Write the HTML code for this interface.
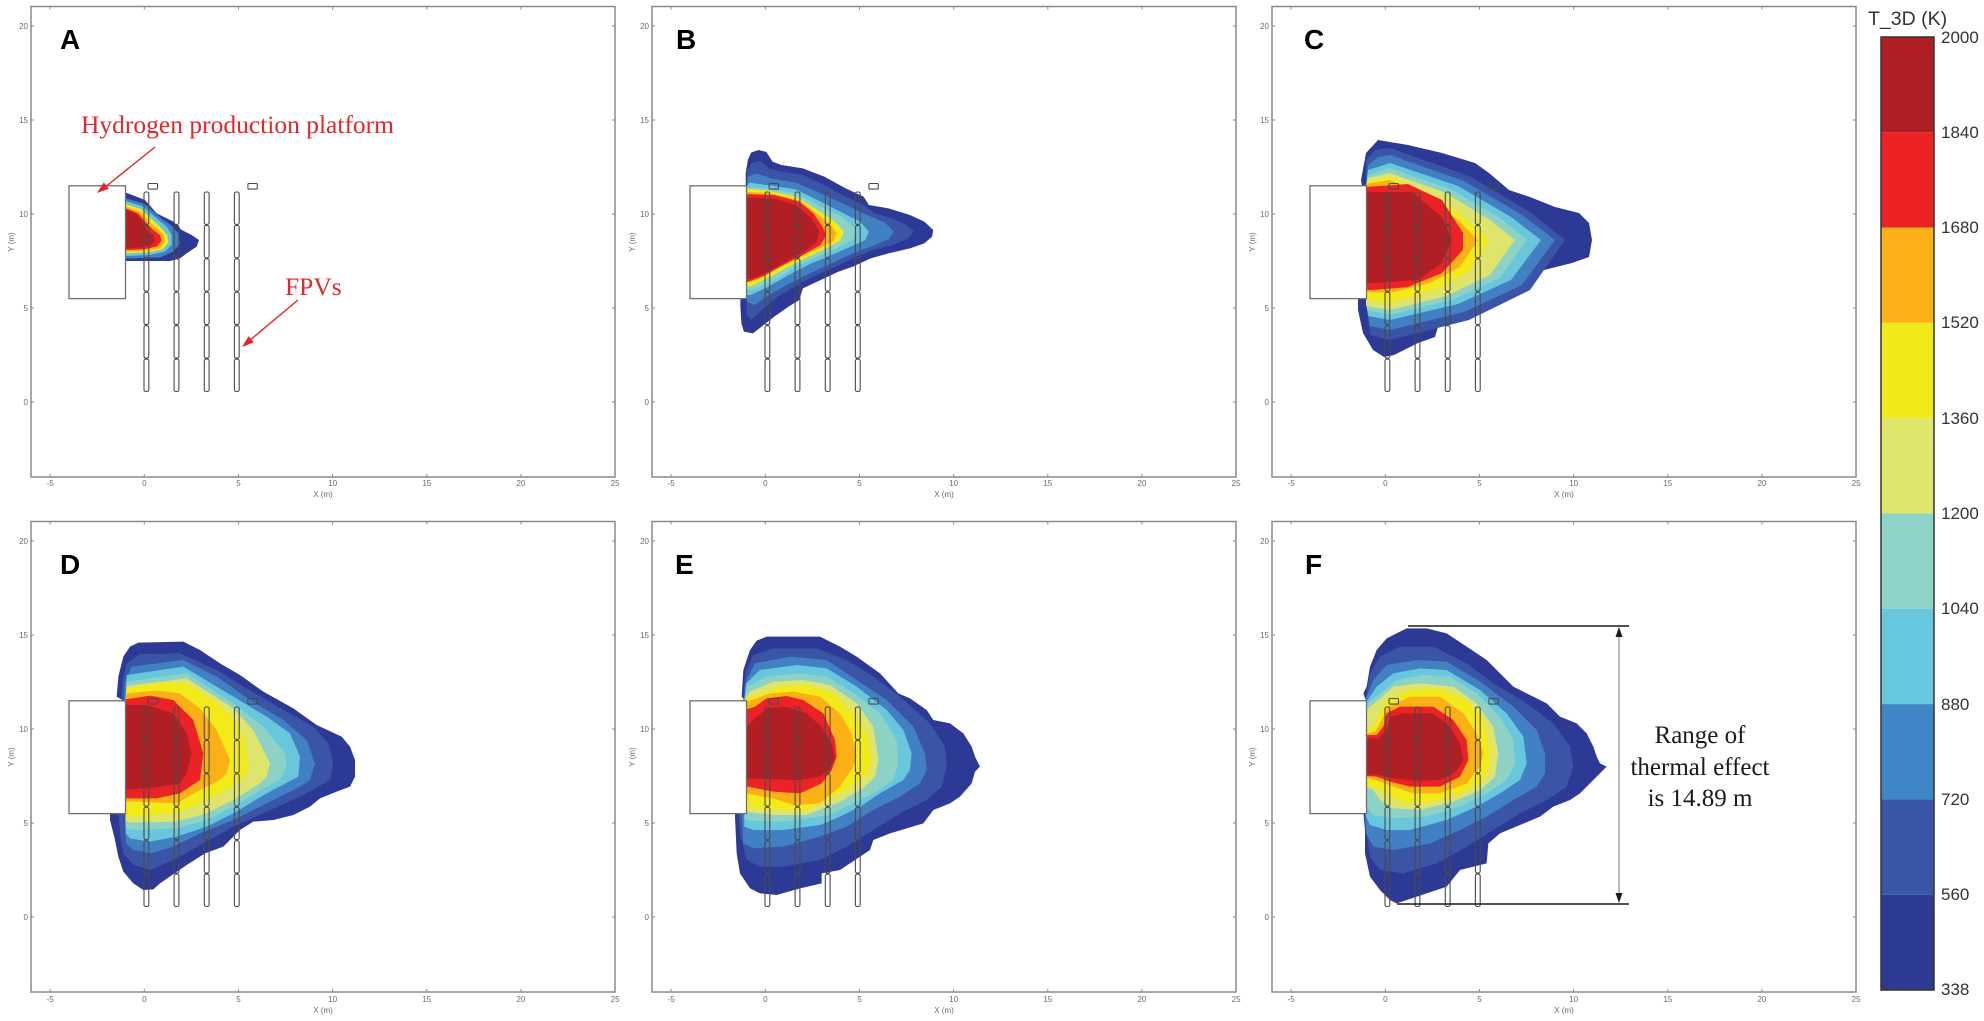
<!DOCTYPE html>
<html>
<head>
<meta charset="utf-8">
<style>
html,body{margin:0;padding:0;background:#fff;}
svg{display:block;}
.tk{font-family:"Liberation Sans",sans-serif;font-size:8px;fill:#6a6a6a;}
.lt{font-family:"Liberation Sans",sans-serif;font-size:28px;font-weight:bold;fill:#000;}
.cb{font-family:"Liberation Sans",sans-serif;font-size:17px;fill:#333;}
.ann{font-family:"Liberation Serif",serif;font-size:25.5px;fill:#e3262b;}
.rng{font-family:"Liberation Serif",serif;font-size:25px;fill:#1a1a1a;}
</style>
</head>
<body>
<svg width="1984" height="1021" viewBox="0 0 1984 1021" xmlns="http://www.w3.org/2000/svg">
<rect width="1984" height="1021" fill="#fff"/>
<defs>
<g id="geom">
  <rect x="-75.3" y="-216.2" width="56.5" height="112.8" fill="#fff" stroke="#6e6e6e" stroke-width="1.3"/>
  <g fill="none" stroke="#4a4a4a" stroke-width="1.1">
    <rect x="-0.3" y="-42.9" width="4.8" height="32.4" rx="1.8"/>
    <rect x="-0.3" y="-76.3" width="4.8" height="32.4" rx="1.8"/>
    <rect x="-0.3" y="-109.8" width="4.8" height="32.4" rx="1.8"/>
    <rect x="-0.3" y="-143.2" width="4.8" height="32.4" rx="1.8"/>
    <rect x="-0.3" y="-176.6" width="4.8" height="32.4" rx="1.8"/>
    <rect x="-0.3" y="-210.0" width="4.8" height="32.4" rx="1.8"/>
    <rect x="29.8" y="-42.9" width="4.8" height="32.4" rx="1.8"/>
    <rect x="29.8" y="-76.3" width="4.8" height="32.4" rx="1.8"/>
    <rect x="29.8" y="-109.8" width="4.8" height="32.4" rx="1.8"/>
    <rect x="29.8" y="-143.2" width="4.8" height="32.4" rx="1.8"/>
    <rect x="29.8" y="-176.6" width="4.8" height="32.4" rx="1.8"/>
    <rect x="29.8" y="-210.0" width="4.8" height="32.4" rx="1.8"/>
    <rect x="60.0" y="-42.9" width="4.8" height="32.4" rx="1.8"/>
    <rect x="60.0" y="-76.3" width="4.8" height="32.4" rx="1.8"/>
    <rect x="60.0" y="-109.8" width="4.8" height="32.4" rx="1.8"/>
    <rect x="60.0" y="-143.2" width="4.8" height="32.4" rx="1.8"/>
    <rect x="60.0" y="-176.6" width="4.8" height="32.4" rx="1.8"/>
    <rect x="60.0" y="-210.0" width="4.8" height="32.4" rx="1.8"/>
    <rect x="90.1" y="-42.9" width="4.8" height="32.4" rx="1.8"/>
    <rect x="90.1" y="-76.3" width="4.8" height="32.4" rx="1.8"/>
    <rect x="90.1" y="-109.8" width="4.8" height="32.4" rx="1.8"/>
    <rect x="90.1" y="-143.2" width="4.8" height="32.4" rx="1.8"/>
    <rect x="90.1" y="-176.6" width="4.8" height="32.4" rx="1.8"/>
    <rect x="90.1" y="-210.0" width="4.8" height="32.4" rx="1.8"/>
    <rect x="3.8" y="-218.5" width="9.4" height="5.6" rx="1"/>
    <rect x="103.6" y="-218.5" width="9.4" height="5.6" rx="1"/>
  </g>
</g>
<g id="frame">
  <rect x="31" y="6.5" width="584" height="470.5" fill="none" stroke="#8a8a8a" stroke-width="1.5"/>
  <path d="M50.1 477v-3M144.3 477v-3M238.5 477v-3M332.6 477v-3M426.8 477v-3M520.9 477v-3
           M50.1 6.5v3M144.3 6.5v3M238.5 6.5v3M332.6 6.5v3M426.8 6.5v3M520.9 6.5v3
           M31 402h3M31 308h3M31 214h3M31 120h3M31 26h3
           M615 402h-3M615 308h-3M615 214h-3M615 120h-3M615 26h-3" stroke="#8a8a8a" stroke-width="1"/>
</g>
</defs>

<!-- ========== PANEL A ========== -->
<g transform="scale(0.333333)">
  <polygon fill="#2C3A95" points="378,578 435,600 470,640 520,665 545,690 575,705 597,720 590,740 560,760 540,775 510,783 378,783"/>
  <polygon fill="#4080C3" points="378,595 435,612 475,648 512,675 535,700 540,730 520,755 480,772 378,776"/>
  <polygon fill="#68C7DC" points="378,603 430,620 470,655 500,680 515,705 515,735 495,755 450,765 378,768"/>
  <polygon fill="#F3EA1A" points="378,612 425,628 460,662 485,685 502,705 505,728 488,748 445,757 378,760"/>
  <polygon fill="#FBB016" points="378,620 420,635 450,668 475,688 492,705 495,725 480,745 440,752 378,755"/>
  <polygon fill="#EC2326" points="378,625 415,640 440,670 460,690 480,705 485,722 470,740 430,748 378,750"/>
  <polygon fill="#B11E24" points="378,632 405,640 425,660 440,690 460,705 465,720 455,735 420,742 378,745"/>
</g>
<use href="#geom" x="144.3" y="402"/>
<use href="#frame" x="0" y="0"/>
<text class="lt" x="60" y="49">A</text>
<text class="ann" x="81" y="133">Hydrogen production platform</text>
<line x1="155" y1="147" x2="104" y2="188" stroke="#e3262b" stroke-width="1.4"/>
<polygon fill="#e3262b" points="97,193 108.9,188.7 103.9,182.4"/>
<text class="ann" x="285" y="295">FPVs</text>
<line x1="298" y1="300" x2="249" y2="341" stroke="#e3262b" stroke-width="1.4"/>
<polygon fill="#e3262b" points="242,347 253.8,342.4 248.6,336.2"/>

<!-- ========== PANEL B ========== -->
<g transform="translate(460,0) scale(0.35714,0.333333)">
  <polygon fill="#2C3A95" points="800,560 800,520 806,480 815,458 835,450 858,456 875,485 900,495 960,505 1020,530 1080,565 1130,590 1145,615 1200,625 1260,645 1300,665 1325,690 1322,710 1300,730 1260,745 1200,760 1150,775 1100,800 1060,815 1010,840 960,865 950,900 920,920 880,950 850,975 820,1000 795,995 788,970 785,920 785,893 700,893 700,560"/>
  <polygon fill="#3A55A6" points="803,560 804,515 815,490 840,482 865,505 900,515 960,525 1020,555 1080,590 1130,615 1160,640 1210,655 1250,675 1270,695 1255,715 1210,735 1150,752 1100,775 1050,800 990,830 940,858 890,890 850,925 815,960 803,945 803,890 700,890 700,560"/>
  <polygon fill="#4080C3" points="803,560 806,530 830,520 870,535 940,548 1010,580 1080,615 1140,645 1190,668 1215,695 1200,718 1150,740 1100,760 1040,790 980,820 920,852 865,885 825,915 803,905 803,890 700,890 700,560"/>
  <polygon fill="#68C7DC" points="803,560 810,548 860,555 940,568 1010,605 1070,638 1120,665 1145,695 1135,720 1090,742 1040,765 980,792 920,825 860,862 815,885 700,885 700,560"/>
  <polygon fill="#8ED2C6" points="803,562 860,565 940,580 1010,620 1070,650 1110,690 1100,720 1060,742 1000,770 940,800 880,840 825,868 795,870 700,870 700,562"/>
  <polygon fill="#F3EA1A" points="803,566 860,572 940,590 1000,630 1050,665 1075,695 1065,722 1030,742 980,768 920,800 860,835 815,858 795,862 700,862 700,566"/>
  <polygon fill="#FBB016" points="795,575 870,580 950,600 1000,640 1040,675 1055,700 1045,725 1005,745 950,772 890,805 835,838 795,850 700,850 700,575"/>
  <polygon fill="#EC2326" points="795,582 880,585 950,605 990,640 1015,680 1025,705 1010,735 960,765 900,798 850,828 800,848 700,848 700,582"/>
  <polygon fill="#B11E24" points="795,592 880,596 940,615 980,650 1005,690 1000,725 970,750 920,780 870,810 820,835 795,838 700,838 700,592"/>
</g>
<use href="#geom" x="765.3" y="402"/>
<use href="#frame" x="621" y="0"/>
<text class="lt" x="676" y="49">B</text>

<!-- ========== PANEL C ========== -->
<g>
  <polygon fill="#2C3A95" points="1362,187 1361,180 1366,153 1378,140 1390,142 1408,145 1442,153 1475,163 1489,173 1509,190 1530,197 1555,207 1579,213 1589,223 1592,240 1589,257 1572,263 1544,270 1509,277 1489,287 1475,293 1450,307 1440,320 1435,337 1418,343 1394,355 1384,357 1373,350 1363,333 1358,310 1358,297 1340,297 1340,187"/>
  <polygon fill="#3A55A6" points="1366,187 1366,160 1375,150 1390,148 1469,176 1530,212 1565,240 1530,290 1469,320 1390,340 1370,335 1366,300 1366,297 1340,297 1340,187"/>
  <polygon fill="#4080C3" points="1366,187 1368,165 1378,157 1390,155 1464,181 1522,215 1555,240 1522,285 1464,312 1390,330 1370,326 1366,300 1366,297 1340,297 1340,187"/>
  <polygon fill="#68C7DC" points="1366,187 1368,170 1390,163 1458,186 1511,217 1541,240 1511,280 1458,304 1390,320 1368,316 1366,300 1366,297 1340,297 1340,187"/>
  <polygon fill="#8ED2C6" points="1366,187 1368,175 1390,168 1452,190 1500,218 1527,240 1500,278 1452,300 1390,315 1367,310 1366,297 1340,297 1340,187"/>
  <polygon fill="#DEE46C" points="1366,187 1368,178 1390,173 1446,193 1490,220 1515,240 1490,275 1446,296 1390,310 1366,306 1366,297 1340,297 1340,187"/>
  <polygon fill="#F3EA1A" points="1366,187 1367,182 1390,177 1435,196 1469,221 1489,240 1469,272 1435,290 1390,303 1366,300 1366,297 1340,297 1340,187"/>
  <polygon fill="#FBB016" points="1366,187 1366,184 1390,180 1430,198 1460,222 1478,240 1460,267 1430,283 1390,293 1366,292 1340,292 1340,187"/>
  <polygon fill="#EC2326" points="1366,187 1408,184 1442,200 1463,233 1463,250 1442,273 1408,287 1373,290 1366,290 1340,290 1340,187"/>
  <polygon fill="#B11E24" points="1366,192 1412,192 1442,217 1452,240 1442,263 1418,280 1373,283 1366,283 1340,283 1340,192"/>
</g>
<use href="#geom" x="1385.3" y="402"/>
<use href="#frame" x="1241" y="0"/>
<text class="lt" x="1304" y="49">C</text>

<!-- ========== PANEL D ========== -->
<g transform="translate(0,500) scale(0.333333)">
  <polygon fill="#2C3A95" points="377,606 350,590 355,530 370,470 390,440 415,428 550,425 600,450 660,490 720,525 790,575 880,625 950,675 1025,710 1050,740 1065,780 1065,830 1050,860 1010,875 960,895 930,920 880,945 820,960 760,965 720,990 670,1040 615,1060 560,1095 480,1150 460,1168 430,1170 400,1150 370,1115 355,1070 345,1020 330,960 330,936 300,936 300,606"/>
  <polygon fill="#3A55A6" points="377,606 365,600 368,540 380,490 420,462 540,460 650,510 740,565 850,630 940,680 985,730 1000,790 990,840 900,890 800,935 700,980 610,1030 520,1080 450,1110 400,1095 370,1060 360,1000 355,938 300,936 300,606"/>
  <polygon fill="#4080C3" points="377,606 372,600 375,545 395,500 550,480 650,530 750,600 850,660 920,720 945,790 930,840 900,860 800,910 700,960 600,1000 520,1040 450,1060 400,1050 378,1030 375,938 300,936 300,606"/>
  <polygon fill="#68C7DC" points="377,606 377,600 380,525 550,500 700,590 800,650 870,700 900,770 895,830 800,880 700,940 620,980 530,1010 450,1025 390,1015 377,1000 377,936 300,936 300,606"/>
  <polygon fill="#8ED2C6" points="377,606 377,600 380,545 560,520 700,610 790,680 855,760 860,800 840,840 800,860 700,920 620,960 530,985 400,990 377,985 377,936 300,936 300,606"/>
  <polygon fill="#DEE46C" points="377,606 377,600 380,558 560,535 700,625 760,690 810,790 800,830 780,850 700,900 620,940 530,965 400,968 377,965 377,936 300,936 300,606"/>
  <polygon fill="#F3EA1A" points="377,606 377,600 380,565 480,548 560,550 640,600 700,650 735,720 745,800 735,830 700,860 620,900 530,940 400,950 377,950 377,936 300,936 300,606"/>
  <polygon fill="#FBB016" points="377,606 377,600 380,580 470,572 540,580 600,625 650,690 690,780 680,820 660,840 600,870 530,910 400,905 377,905 300,905 300,606"/>
  <polygon fill="#EC2326" points="377,606 377,598 450,587 520,600 580,660 610,760 605,800 600,840 540,880 470,895 377,895 300,895 300,606"/>
  <polygon fill="#B11E24" points="377,615 440,615 520,640 560,700 575,760 560,820 540,850 470,862 377,870 300,870 300,615"/>
</g>
<use href="#geom" x="144.3" y="917"/>
<use href="#frame" x="0" y="515"/>
<text class="lt" x="60" y="574">D</text>

<!-- ========== PANEL E ========== -->
<g transform="translate(640,500) scale(0.333333)">
  <polygon fill="#2C3A95" points="319,606 305,590 310,510 330,450 350,422 380,410 540,410 600,440 650,470 720,520 775,580 810,595 860,630 880,660 930,670 970,700 995,740 1005,770 1020,800 1005,815 995,850 960,890 930,910 880,930 850,970 800,985 750,1000 700,1020 690,1050 600,1110 545,1120 545,1150 480,1165 410,1185 360,1180 330,1165 300,1120 290,1060 285,950 285,936 250,936 250,606"/>
  <polygon fill="#3A55A6" points="319,606 310,600 315,520 340,465 400,445 530,445 620,480 700,530 780,590 870,670 915,740 920,800 905,860 860,900 780,940 700,990 620,1040 540,1080 430,1100 360,1100 320,1080 300,1000 295,936 250,936 250,606"/>
  <polygon fill="#4080C3" points="319,606 315,600 320,540 345,490 450,470 560,480 650,540 740,600 820,680 855,760 860,810 840,850 780,890 700,930 620,980 540,1010 430,1040 340,1045 310,1030 305,936 250,936 250,606"/>
  <polygon fill="#68C7DC" points="319,606 313,600 318,550 360,510 470,495 560,505 650,560 740,630 790,690 815,760 810,810 790,840 720,880 660,920 600,950 540,975 430,990 340,990 313,980 313,936 250,936 250,606"/>
  <polygon fill="#8ED2C6" points="319,606 313,600 320,560 380,530 480,520 560,530 650,585 720,640 770,720 775,790 760,840 700,880 640,910 570,945 430,965 330,962 313,958 313,936 250,936 250,606"/>
  <polygon fill="#DEE46C" points="319,606 313,600 330,575 400,545 490,540 570,555 650,610 700,680 715,780 705,830 670,865 600,905 500,945 400,945 313,935 250,935 250,606"/>
  <polygon fill="#F3EA1A" points="319,606 313,598 350,585 420,560 500,555 580,580 640,640 680,700 695,770 685,820 650,850 580,890 500,930 400,928 313,922 250,922 250,606"/>
  <polygon fill="#FBB016" points="319,606 390,580 460,575 540,590 600,640 635,700 650,770 640,800 600,860 540,910 460,915 400,895 313,880 250,880 250,606"/>
  <polygon fill="#EC2326" points="313,630 345,620 380,595 440,588 490,600 550,640 585,720 590,770 575,810 545,850 480,880 400,875 313,858 250,858 250,630"/>
  <polygon fill="#B11E24" points="313,685 340,660 380,625 440,620 500,640 545,680 575,730 585,775 570,805 540,830 480,840 400,838 313,835 250,835 250,685"/>
</g>
<use href="#geom" x="765.3" y="917"/>
<use href="#frame" x="621" y="515"/>
<text class="lt" x="675" y="574">E</text>

<!-- ========== PANEL F ========== -->
<g transform="translate(1260,500) scale(0.333333)">
  <polygon fill="#2C3A95" points="319,606 310,580 320,560 330,500 350,450 380,415 440,385 500,385 560,400 620,440 680,480 720,520 760,560 800,580 860,610 900,650 950,670 980,700 1000,740 1010,770 1020,790 1040,800 1025,815 1000,840 960,880 930,900 880,920 840,950 780,975 720,1000 685,1030 680,1090 600,1110 560,1160 500,1180 440,1200 410,1210 390,1200 360,1170 330,1130 315,1060 315,990 310,936 250,936 250,606"/>
  <polygon fill="#3A55A6" points="319,606 316,600 330,520 360,470 420,440 520,440 620,490 700,550 800,610 880,670 930,740 940,800 920,860 860,900 780,940 700,990 620,1040 530,1090 430,1120 360,1110 330,1070 320,1000 315,936 250,936 250,606"/>
  <polygon fill="#4080C3" points="319,606 316,600 340,540 380,495 470,480 560,485 660,545 760,620 830,690 855,760 855,820 830,860 760,900 680,950 600,990 510,1030 400,1050 340,1040 318,1000 315,936 250,936 250,606"/>
  <polygon fill="#68C7DC" points="319,606 350,560 400,520 480,505 560,510 660,570 740,640 790,710 800,790 780,840 720,880 650,920 560,960 450,990 380,990 330,975 318,950 318,936 250,936 250,606"/>
  <polygon fill="#8ED2C6" points="316,615 360,580 410,540 490,525 570,530 650,580 720,650 760,720 765,790 740,840 680,880 600,920 500,950 400,955 340,945 318,920 250,920 250,615"/>
  <polygon fill="#DEE46C" points="318,630 355,600 400,560 480,550 580,560 650,610 700,680 715,760 705,830 660,870 580,905 480,930 400,925 360,900 340,870 318,860 250,860 250,630"/>
  <polygon fill="#F3EA1A" points="318,690 340,680 360,640 380,600 450,570 540,565 620,600 670,660 690,740 690,800 660,850 600,880 520,905 440,910 390,890 360,870 330,860 318,855 250,855 250,690"/>
  <polygon fill="#FBB016" points="318,700 345,695 365,660 385,620 450,590 540,590 610,640 650,700 670,760 660,800 620,850 540,880 460,880 400,860 360,845 330,835 318,833 250,833 250,700"/>
  <polygon fill="#EC2326" points="318,705 350,705 370,680 380,640 420,620 520,620 580,660 620,720 625,780 600,830 540,860 450,860 390,845 350,830 318,828 250,828 250,705"/>
  <polygon fill="#B11E24" points="318,715 355,715 380,690 390,650 430,640 520,640 570,680 600,730 610,780 590,815 540,840 460,842 400,835 360,825 318,822 250,822 250,715"/>
</g>
<use href="#geom" x="1385.3" y="917"/>
<use href="#frame" x="1241" y="515"/>
<text class="lt" x="1305" y="574">F</text>
<!-- range annotation -->
<line x1="1408" y1="626" x2="1629" y2="626" stroke="#1a1a1a" stroke-width="1.6"/>
<line x1="1397" y1="904" x2="1629" y2="904" stroke="#1a1a1a" stroke-width="1.6"/>
<line x1="1619" y1="634" x2="1619" y2="896" stroke="#8a8a8a" stroke-width="1.2"/>
<polygon fill="#1a1a1a" points="1619,627 1615.5,637 1622.5,637"/>
<polygon fill="#1a1a1a" points="1619,903 1615.5,893 1622.5,893"/>
<text class="rng" x="1700" y="743" text-anchor="middle">Range of</text>
<text class="rng" x="1700" y="775" text-anchor="middle">thermal effect</text>
<text class="rng" x="1700" y="806" text-anchor="middle">is 14.89 m</text>

<!-- ========== tick labels top row ========== -->
<g class="tk" text-anchor="middle">
  <text x="50.1" y="486">-5</text><text x="144.3" y="486">0</text><text x="238.5" y="486">5</text><text x="332.6" y="486">10</text><text x="426.8" y="486">15</text><text x="520.9" y="486">20</text><text x="615.1" y="486">25</text>
  <text x="323" y="497">X (m)</text>
  <text x="671.1" y="486">-5</text><text x="765.3" y="486">0</text><text x="859.5" y="486">5</text><text x="953.6" y="486">10</text><text x="1047.8" y="486">15</text><text x="1141.9" y="486">20</text><text x="1236.1" y="486">25</text>
  <text x="944" y="497">X (m)</text>
  <text x="1291.1" y="486">-5</text><text x="1385.3" y="486">0</text><text x="1479.5" y="486">5</text><text x="1573.6" y="486">10</text><text x="1667.8" y="486">15</text><text x="1761.9" y="486">20</text><text x="1856.1" y="486">25</text>
  <text x="1564" y="497">X (m)</text>
</g>
<g class="tk" text-anchor="middle">
  <text x="50.1" y="1002">-5</text><text x="144.3" y="1002">0</text><text x="238.5" y="1002">5</text><text x="332.6" y="1002">10</text><text x="426.8" y="1002">15</text><text x="520.9" y="1002">20</text><text x="615.1" y="1002">25</text>
  <text x="323" y="1013">X (m)</text>
  <text x="671.1" y="1002">-5</text><text x="765.3" y="1002">0</text><text x="859.5" y="1002">5</text><text x="953.6" y="1002">10</text><text x="1047.8" y="1002">15</text><text x="1141.9" y="1002">20</text><text x="1236.1" y="1002">25</text>
  <text x="944" y="1013">X (m)</text>
  <text x="1291.1" y="1002">-5</text><text x="1385.3" y="1002">0</text><text x="1479.5" y="1002">5</text><text x="1573.6" y="1002">10</text><text x="1667.8" y="1002">15</text><text x="1761.9" y="1002">20</text><text x="1856.1" y="1002">25</text>
  <text x="1564" y="1013">X (m)</text>
</g>
<g class="tk" text-anchor="end">
  <text x="28" y="405">0</text><text x="28" y="311">5</text><text x="28" y="217">10</text><text x="28" y="123">15</text><text x="28" y="29">20</text>
  <text x="649" y="405">0</text><text x="649" y="311">5</text><text x="649" y="217">10</text><text x="649" y="123">15</text><text x="649" y="29">20</text>
  <text x="1269" y="405">0</text><text x="1269" y="311">5</text><text x="1269" y="217">10</text><text x="1269" y="123">15</text><text x="1269" y="29">20</text>
  <text x="28" y="920">0</text><text x="28" y="826">5</text><text x="28" y="732">10</text><text x="28" y="638">15</text><text x="28" y="544">20</text>
  <text x="649" y="920">0</text><text x="649" y="826">5</text><text x="649" y="732">10</text><text x="649" y="638">15</text><text x="649" y="544">20</text>
  <text x="1269" y="920">0</text><text x="1269" y="826">5</text><text x="1269" y="732">10</text><text x="1269" y="638">15</text><text x="1269" y="544">20</text>
</g>
<g class="tk" text-anchor="middle">
  <text transform="translate(14,242) rotate(-90)">Y (m)</text>
  <text transform="translate(635,242) rotate(-90)">Y (m)</text>
  <text transform="translate(1255,242) rotate(-90)">Y (m)</text>
  <text transform="translate(14,757) rotate(-90)">Y (m)</text>
  <text transform="translate(635,757) rotate(-90)">Y (m)</text>
  <text transform="translate(1255,757) rotate(-90)">Y (m)</text>
</g>

<!-- ========== COLORBAR ========== -->
<text x="1868" y="25" style="font-family:'Liberation Sans',sans-serif;font-size:19.5px;fill:#333;">T_3D (K)</text>
<g>
  <rect x="1881" y="37" width="53" height="95.3" fill="#B01E24"/>
  <rect x="1881" y="132.3" width="53" height="95.3" fill="#ED2224"/>
  <rect x="1881" y="227.6" width="53" height="95.3" fill="#FBB117"/>
  <rect x="1881" y="322.9" width="53" height="95.3" fill="#F2EA18"/>
  <rect x="1881" y="418.2" width="53" height="95.3" fill="#E0E66C"/>
  <rect x="1881" y="513.5" width="53" height="95.3" fill="#8DD3C7"/>
  <rect x="1881" y="608.8" width="53" height="95.3" fill="#67C8DD"/>
  <rect x="1881" y="704.1" width="53" height="95.3" fill="#3F86C7"/>
  <rect x="1881" y="799.4" width="53" height="95.3" fill="#3A56A7"/>
  <rect x="1881" y="894.7" width="53" height="95.3" fill="#2C3A93"/>
  <rect x="1881" y="37" width="53" height="953" fill="none" stroke="#333" stroke-width="1.5"/>
</g>
<g class="cb">
  <text x="1941" y="43">2000</text>
  <text x="1941" y="138">1840</text>
  <text x="1941" y="233">1680</text>
  <text x="1941" y="328">1520</text>
  <text x="1941" y="424">1360</text>
  <text x="1941" y="519">1200</text>
  <text x="1941" y="614">1040</text>
  <text x="1941" y="710">880</text>
  <text x="1941" y="805">720</text>
  <text x="1941" y="900">560</text>
  <text x="1941" y="995">338</text>
</g>
</svg>
</body>
</html>
